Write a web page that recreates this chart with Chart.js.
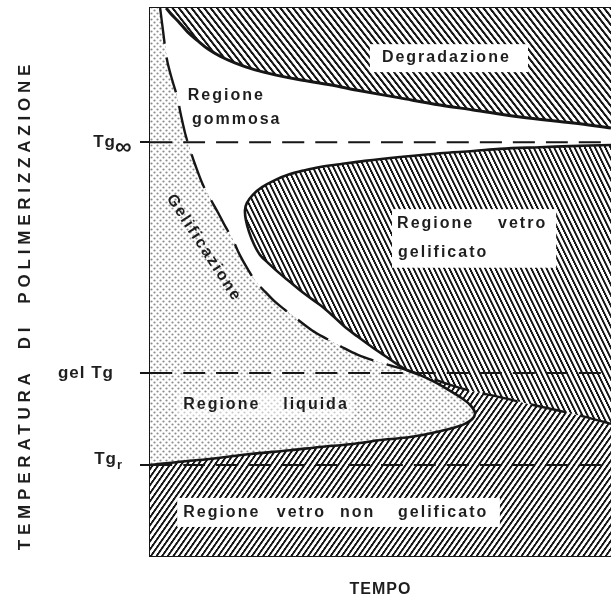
<!DOCTYPE html>
<html lang="it">
<head>
<meta charset="utf-8">
<title>Diagramma TTT</title>
<script src="https://cdn.jsdelivr.net/npm/chart.js@4.4.1/dist/chart.umd.min.js"></script>
<style>
  html, body { margin: 0; padding: 0; background: #fff; }
  #wrap { width: 611px; height: 599px; position: relative; }
</style>
</head>
<body>
<div id="wrap"><canvas id="ttt"></canvas></div>
<script>
// tempo (0-100) e temperatura (0-100), unita arbitrarie

// livelli di riferimento sull'asse delle temperature
const tgInf = 75.5;
const gelTg = 33.4;
const tgR = 16.6;

// curva di degradazione
const degradazione = [
  [3.5, 100], [4.8, 98.7], [6.1, 97.6], [8.2, 95.6], [10.4, 94.0], [12.6, 92.5],
  [15.2, 91.2], [18.4, 90.0], [22.8, 88.7], [27.1, 87.8], [32.5, 86.9], [39.0, 86.0],
  [45.6, 84.9], [54.2, 83.6], [62.9, 82.3], [70.1, 81.4], [80.3, 80.1], [91.8, 79.0], [100, 78.1]
];

// curva di gelificazione, sopra e sotto il punto gel Tg
const gelSopra = [
  [2.2, 100], [2.8, 96.0], [3.7, 90.5], [4.8, 86.9], [5.9, 83.8], [6.7, 80.5], [7.6, 77.2],
  [8.7, 74.1], [9.8, 71.4], [11.5, 67.7], [13.2, 65.0], [14.8, 62.6], [16.3, 60.2], [17.8, 58.0],
  [19.5, 54.9], [21.3, 52.2], [23.0, 50.0], [25.0, 48.2], [27.1, 46.4], [29.3, 44.9], [32.1, 43.1],
  [35.1, 41.2], [38.4, 39.6], [41.7, 38.1], [45.1, 36.7], [48.8, 35.6], [52.5, 34.7], [55.8, 33.9]
];
const gelSotto = [
  [55.8, 33.9], [61.4, 32.3], [68.8, 30.3], [75.9, 29.0], [82.4, 27.7], [88.3, 26.6], [94.4, 25.4], [100, 24.1]
];

// curva di vetrificazione: ramo del vetro gelificato, poi naso della regione liquida
const vetroGel = [
  [100, 75.0], [91.1, 74.8], [84.6, 74.6], [75.9, 74.3], [70.1, 73.9], [62.9, 73.5], [54.2, 72.8],
  [46.6, 72.1], [41.2, 71.5], [36.9, 71.0], [33.6, 70.4], [30.4, 69.7], [27.1, 68.6], [24.3, 67.3],
  [22.3, 65.9], [21.0, 64.4], [20.6, 63.1], [20.8, 61.3], [21.5, 59.1], [22.6, 56.8], [23.9, 54.9],
  [25.6, 53.5], [27.8, 51.8], [30.4, 50.0], [33.6, 47.8], [36.9, 45.8], [39.7, 43.8], [42.3, 41.8],
  [45.1, 40.0], [48.2, 38.1], [51.0, 36.5], [53.6, 35.0], [55.8, 33.9]
];
const vetroLiq = [
  [55.8, 33.9], [58.6, 33.0], [61.4, 31.9], [64.4, 30.5], [67.3, 29.0], [69.4, 27.6], [70.5, 26.1],
  [69.9, 25.0], [68.3, 24.1], [65.1, 23.2], [61.4, 22.5], [56.4, 21.7], [50.5, 21.2], [43.4, 20.4],
  [36.9, 19.9], [30.4, 19.3], [21.7, 18.6], [13.0, 17.7], [6.5, 17.2], [0, 16.6]
];

const INK = '#161616';
const FONT = '"Liberation Sans", Arial, Helvetica, sans-serif';

// retini
function stripes(angle, scale) {
  const tile = document.createElement('canvas');
  tile.width = 10; tile.height = 10;
  const c = tile.getContext('2d');
  c.fillStyle = '#fff'; c.fillRect(0, 0, 10, 10);
  c.fillStyle = INK; c.fillRect(0, 0, 4.2, 10);
  const p = c.createPattern(tile, 'repeat');
  p.setTransform(new DOMMatrix().rotateSelf(angle).scaleSelf(scale));
  return p;
}
function dots() {
  const tile = document.createElement('canvas');
  tile.width = 6; tile.height = 6;
  const c = tile.getContext('2d');
  c.fillStyle = '#fff'; c.fillRect(0, 0, 6, 6);
  c.fillStyle = '#8c8c8c';
  [[1.5, 1.5], [4.5, 4.5]].forEach(([x, y]) => { c.beginPath(); c.arc(x, y, 1.1, 0, Math.PI * 2); c.fill(); });
  return c.createPattern(tile, 'repeat');
}

const pts = arr => arr.map(([x, y]) => ({x, y}));

function area(data, color, order) {
  return { data: pts(data), fill: 'shape', backgroundColor: color, borderWidth: 0, pointRadius: 0, tension: 0, order };
}
function curve(data, width, dash, order) {
  return { data: pts(data), fill: false, borderColor: INK, borderWidth: width, borderDash: dash,
           pointRadius: 0, tension: 0.35, order, borderCapStyle: 'butt' };
}

const gelCurve = gelSopra.concat(gelSotto.slice(1));
const vetroCurve = vetroGel.concat(vetroLiq.slice(1));

const datasets = [
  // sfondo: vetro non gelificato
  area([[0, 0], [0, 100], [100, 100], [100, 0]], stripes(35, 0.46), 30),
  // tutto cio che sta sopra la gelificazione
  area(gelCurve.concat([[100, 100]]), '#fff', 29),
  area(degradazione.concat([[100, 100]]), stripes(-38, 0.5), 28),
  area(vetroGel.concat(gelSotto.slice(1)), stripes(-26, 0.46), 27),
  area([[0, 100]].concat(gelSopra, vetroLiq.slice(1)), dots(), 26),
  curve([[0, tgInf], [100, tgInf]], 2, [22, 11], 12),
  curve([[0, gelTg], [100, gelTg]], 2, [22, 11], 12),
  curve([[0, tgR], [100, tgR]], 2, [22, 11], 12),
  curve(gelCurve, 2.4, [36, 14], 11),
  curve(vetroCurve, 2.6, [], 10),
  curve(degradazione, 3, [], 10)
];

// scritte
const boxes = [
  {x0: 47.7, x1: 82.0, y0: 93.4, y1: 88.3, fill: '#fff'},
  {x0: 52.5, x1: 88.1, y0: 63.3, y1: 52.6, fill: '#fff'},
  {x0: 5.9, x1: 44.0, y0: 29.6, y1: 25.2, fill: 'rgba(255,255,255,0.55)'},
  {x0: 5.9, x1: 75.9, y0: 10.6, y1: 5.3, fill: '#fff'}
];
const words = [
  ['Degradazione', 50.3, 90.9],
  ['Regione', 8.2, 84.1], ['gommosa', 9.1, 79.7],
  ['Regione', 53.6, 60.6], ['vetro', 75.5, 60.6], ['gelificato', 53.8, 55.3],
  ['Regione', 7.2, 27.6], ['liquida', 28.9, 27.6],
  ['Regione', 7.2, 8.0], ['vetro', 27.5, 8.0], ['non', 41.2, 8.0], ['gelificato', 53.8, 8.0]
];

function setFont(ctx, size, spacing) {
  ctx.font = 'bold ' + size + 'px ' + FONT;
  ctx.letterSpacing = (spacing || 0) + 'px';
}

const labelsPlugin = {
  id: 'etichette',
  afterDraw(chart) {
    const {ctx, chartArea: ca} = chart;
    const xs = chart.scales.x, ys = chart.scales.y;
    ctx.save();
    boxes.forEach(b => {
      ctx.fillStyle = b.fill;
      const x0 = xs.getPixelForValue(b.x0), x1 = xs.getPixelForValue(b.x1);
      const y0 = ys.getPixelForValue(b.y0), y1 = ys.getPixelForValue(b.y1);
      ctx.fillRect(x0, y0, x1 - x0, y1 - y0);
    });
    ctx.fillStyle = '#1e1e1e';
    ctx.textBaseline = 'middle';
    ctx.textAlign = 'left';
    setFont(ctx, 16, 2);
    words.forEach(([t, x, y]) => ctx.fillText(t, xs.getPixelForValue(x), ys.getPixelForValue(y)));

    // Gelificazione lungo la curva
    ctx.save();
    ctx.translate(xs.getPixelForValue(11.7), ys.getPixelForValue(56.2));
    ctx.rotate(57 * Math.PI / 180);
    ctx.textAlign = 'center';
    ctx.fillText('Gelificazione', 0, 0);
    ctx.restore();

    // etichette dei livelli
    ctx.textBaseline = 'alphabetic';
    ctx.textAlign = 'right';
    const left = ca.left;
    let py = ys.getPixelForValue(tgInf);
    setFont(ctx, 17, 1);
    ctx.fillText('Tg', left - 34, py + 5);
    ctx.textAlign = 'left';
    setFont(ctx, 23, 0);
    ctx.fillText('∞', left - 35, py + 12);
    py = ys.getPixelForValue(gelTg);
    ctx.textAlign = 'right';
    setFont(ctx, 17, 1);
    ctx.fillText('gel Tg', left - 36, py + 5);
    py = ys.getPixelForValue(tgR);
    ctx.fillText('Tg', left - 33, py - 1);
    ctx.textAlign = 'left';
    setFont(ctx, 13, 0);
    ctx.fillText('r', left - 33, py + 4);

    // titoli degli assi
    ctx.textAlign = 'center';
    ctx.textBaseline = 'middle';
    setFont(ctx, 16, 1);
    ctx.fillText('TEMPO', (ca.left + ca.right) / 2, 590);
    ctx.save();
    ctx.translate(25, (ca.top + ca.bottom) / 2 + 23);
    ctx.rotate(-Math.PI / 2);
    setFont(ctx, 17, 4.8);
    ctx.fillText('TEMPERATURA  DI  POLIMERIZZAZIONE', 0, 0);
    ctx.restore();
    ctx.restore();
  }
};

new Chart(document.getElementById('ttt'), {
  type: 'line',
  data: { datasets },
  options: {
    responsive: true,
    maintainAspectRatio: false,
    animation: false,
    events: [],
    layout: { padding: 0 },
    plugins: { legend: { display: false }, tooltip: { enabled: false } },
    scales: {
      x: {
        type: 'linear', position: 'bottom', min: 0, max: 100,
        ticks: { display: false }, grid: { display: false },
        border: { display: true, color: INK, width: 2 },
        afterFit: s => { s.height = 43; }
      },
      xTop: {
        type: 'linear', position: 'top', min: 0, max: 100,
        ticks: { display: false }, grid: { display: false },
        border: { display: true, color: INK, width: 2 },
        afterFit: s => { s.height = 8; }
      },
      y: {
        type: 'linear', position: 'left', min: 0, max: 100,
        afterBuildTicks: s => { s.ticks = [tgR, gelTg, tgInf].map(v => ({value: v})); },
        ticks: { display: false },
        grid: { drawOnChartArea: false, drawTicks: true, tickLength: 10, color: INK, lineWidth: 2 },
        border: { display: true, color: INK, width: 2 },
        afterFit: s => { s.width = 150; }
      }
    }
  },
  plugins: [labelsPlugin]
});
</script>
</body>
</html>
